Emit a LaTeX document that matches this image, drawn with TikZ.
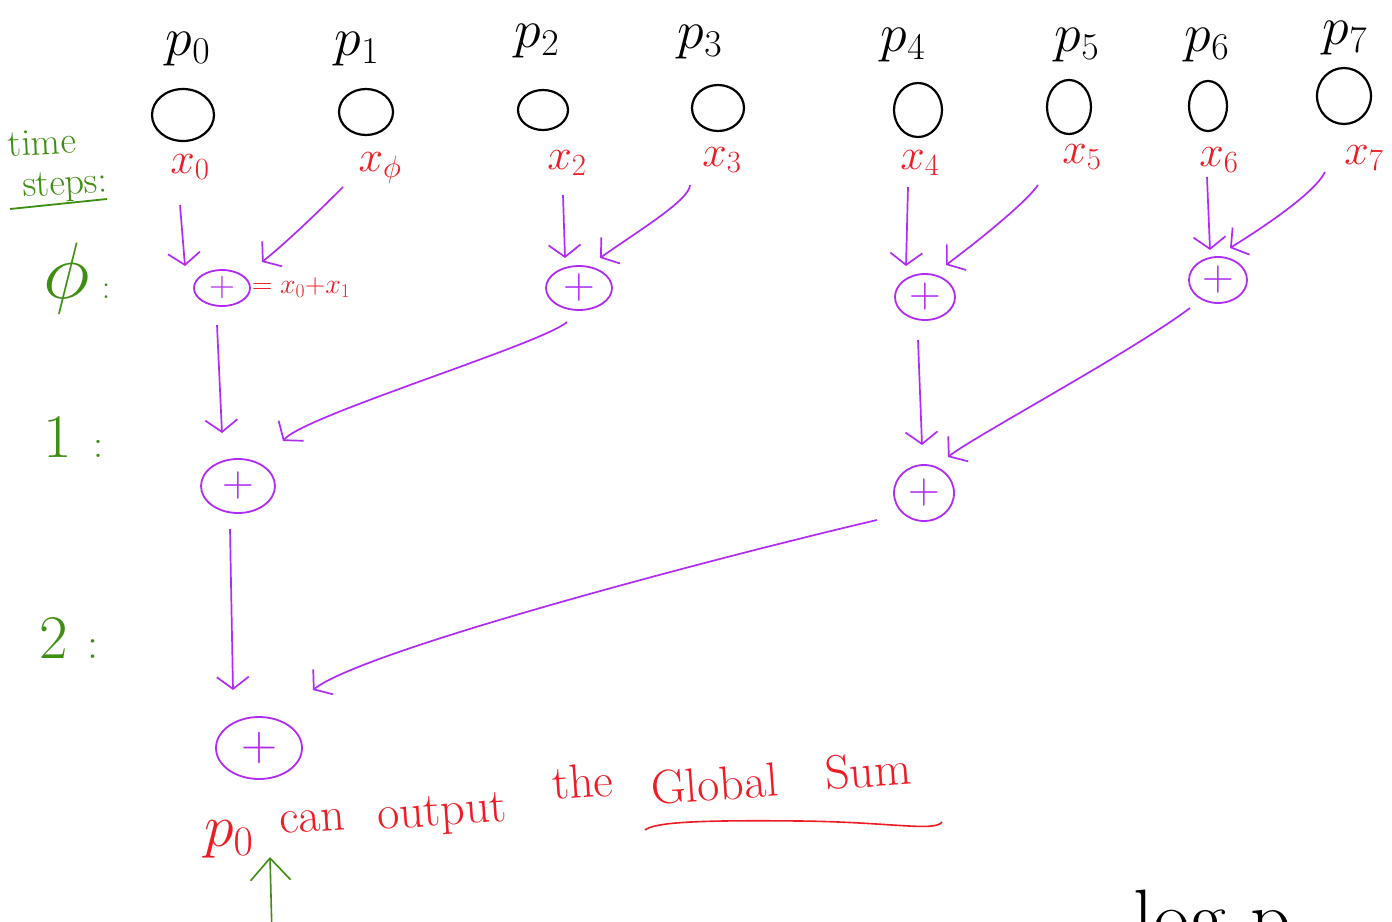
\RequirePackage{fix-cm}
\documentclass[tikz,border=0pt]{standalone}
\usepackage{fontspec}
\usetikzlibrary{shapes.geometric,arrows.meta,calc}
\definecolor{hpurple}{HTML}{B02CF5}
\definecolor{hred}{HTML}{EE1C24}
\definecolor{hgreen}{HTML}{3E8E12}
\newcommand{\fs}[1]{\fontsize{#1}{#1}\selectfont}
\begin{document}
\begin{tikzpicture}[x=1pt,y=-1pt,
  proc/.style={draw=black, line width=2.2pt, ellipse, inner sep=0pt},
  sumnode/.style={draw=hpurple, line width=1.8pt, ellipse, inner sep=0pt, text=hpurple, font=\fs{44}},
  plabel/.style={font=\fs{54}, inner sep=1pt},
  xlabel/.style={text=hred, font=\fs{44}},
  steplabel/.style={text=hgreen, font=\fs{62}, anchor=west},
  arr/.style={draw=hpurple, line width=1.7pt, -{Straight Barb[length=12pt,width=32pt]}},
  redword/.style={text=hred, font=\fs{48}, rotate=4, anchor=base west, inner sep=0pt}]
\useasboundingbox (0,0) rectangle (1392,921);
\fill[white] (0,0) rectangle (1392,921);
\clip (0,0) rectangle (1392,921);

% processors
\node[proc, minimum width=62, minimum height=52] (c0) at (183,115) {};
\node[proc, minimum width=54, minimum height=46] (c1) at (366,112) {};
\node[proc, minimum width=50, minimum height=40] (c2) at (543,110) {};
\node[proc, minimum width=52, minimum height=46] (c3) at (718,108) {};
\node[proc, minimum width=48, minimum height=54] (c4) at (918,110) {};
\node[proc, minimum width=44, minimum height=54] (c5) at (1069,107) {};
\node[proc, minimum width=38, minimum height=50] (c6) at (1208,106) {};
\node[proc, minimum width=54, minimum height=56] (c7) at (1344,96) {};

% processor labels
\node[plabel] (p0) at (188,49) {$p_0$};
\node[plabel] (p1) at (357,49) {$p_1$};
\node[plabel] (p2) at (537,41) {$p_2$};
\node[plabel] (p3) at (700,42) {$p_3$};
\node[plabel] (p4) at (903,45) {$p_4$};
\node[plabel] (p5) at (1077,45) {$p_5$};
\node[plabel] (p6) at (1207,45) {$p_6$};
\node[plabel] (p7) at (1345,38) {$p_7$};

% values
\node[xlabel] (x0) at (190,167) {$x_0$};
\node[xlabel] (x1) at (380,168) {$x_\phi$};
\node[xlabel] (x2) at (567,163) {$x_2$};
\node[xlabel] (x3) at (722,160) {$x_3$};
\node[xlabel] (x4) at (920,163) {$x_4$};
\node[xlabel] (x5) at (1082,157) {$x_5$};
\node[xlabel] (x6) at (1219,160) {$x_6$};
\node[xlabel] (x7) at (1364,158) {$x_7$};

% sum nodes
\node[sumnode, minimum width=56, minimum height=36, font=\fs{36}] (a0) at (222,288) {+};
\node[sumnode, minimum width=66, minimum height=44] (a1) at (579,288) {+};
\node[sumnode, minimum width=60, minimum height=46] (a2) at (925,297) {+};
\node[sumnode, minimum width=58, minimum height=46] (a3) at (1218,280) {+};
\node[sumnode, minimum width=74, minimum height=54] (b0) at (238,486) {+};
\node[sumnode, minimum width=60, minimum height=56] (b1) at (924,493) {+};
\node[sumnode, minimum width=86, minimum height=62, font=\fs{50}] (r) at (259,748) {+};

\node[text=hred, font=\fs{28}, anchor=west, inner sep=1pt] (eq) at (a0.east) {$=x_0{+}x_1$};

% level 0 arrows
\draw[arr] ($(x0)+(-10,38)$) -- ($(a0)+(-37,-22)$);
\draw[arr] ($(x1)+(-37,19)$) .. controls +(-25,25) and +(25,-20) .. ($(a0)+(40,-26)$);
\draw[arr] ($(x2)+(-4,32)$) -- ($(a1)+(-14,-30)$);
\draw[arr] ($(x3)+(-32,25)$) .. controls +(0,15) and +(35,-25) .. ($(a1)+(21,-30)$);
\draw[arr] ($(x4)+(-12,24)$) -- ($(a2)+(-19,-31)$);
\draw[arr] ($(x5)+(-44,28)$) .. controls +(-10,15) and +(40,-30) .. ($(a2)+(21,-32)$);
\draw[arr] ($(x6)+(-12,17)$) -- ($(a3)+(-8,-30)$);
\draw[arr] ($(x7)+(-39,14)$) .. controls +(-10,20) and +(40,-25) .. ($(a3)+(12,-32)$);

% level 1 arrows
\draw[arr] ($(a0)+(-5,37)$) -- ($(b0)+(-16,-53)$);
\draw[arr] ($(a1)+(-12,34)$) .. controls +(-25,22) and +(20,-25) .. ($(b0)+(45,-45)$);
\draw[arr] ($(a2)+(-7,43)$) -- ($(b1)+(-2,-48)$);
\draw[arr] ($(a3)+(-28,28)$) .. controls +(-60,45) and +(25,-20) .. ($(b1)+(24,-36)$);

% level 2 arrows
\draw[arr] ($(b0)+(-8,43)$) -- ($(r)+(-26,-58)$);
\draw[arr] ($(b1)+(-47,27)$) .. controls +(-150,35) and +(50,-40) .. ($(r)+(54,-58)$);

% time steps
\node[text=hgreen, font=\fs{38}, align=left, rotate=3, inner sep=1pt] (ts) at (58,166) {time\\[3pt]\hspace*{12pt}steps:};
\draw[hgreen, line width=1.8pt] (10,209) -- (107,199);
\node[steplabel, font=\fs{80}] (s0) at (40,278) {$\phi$\hspace{12pt}{\fs{34}:}};
\node[steplabel] (s1) at (40,437) {1\hspace{22pt}{\fs{40}:}};
\node[steplabel] (s2) at (36,638) {2\hspace{20pt}{\fs{44}:}};

% bottom text
\node[text=hred, font=\fs{60}, anchor=base west, inner sep=0pt] (pz) at (204,846) {$p_0$};
\node[redword] (w1) at (280,834) {can};
\node[redword] (w2) at (378,830) {output};
\node[redword] (w3) at (553,800) {the};
\node[redword] (w4) at (652,805) {Global};
\node[redword] (w5) at (826,790) {Sum};
\draw[hred, line width=1.6pt] (645,830) .. controls (655,822) and (700,820) .. (800,821) .. controls (890,822) and (935,832) .. (942,822);

% green pointer
\coordinate (gbot) at (272,935);
\coordinate (gtip) at (270,857);
\draw[hgreen, line width=1.6pt, -{Straight Barb[length=22pt,width=40pt]}] (gbot) -- (gtip);

% log p (cut off at the lower edge, as in the reference)
\node[anchor=base west, font=\fs{80}, inner sep=0pt] (logp) at (1133,945) {log p};
\end{tikzpicture}
\end{document}
